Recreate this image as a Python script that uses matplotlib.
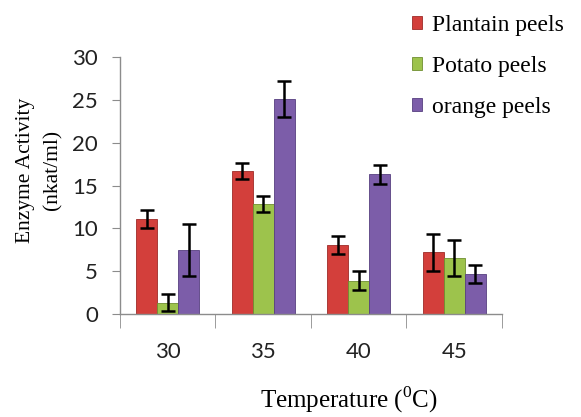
import numpy as np
import matplotlib
matplotlib.use("Agg")
import matplotlib.pyplot as plt

# data
temperatures = ["30", "35", "40", "45"]
series_names = ["Plantain peels", "Potato peels", "orange peels"]
plantain = [11.1, 16.7, 8.1, 7.2]
potato = [1.35, 12.85, 3.9, 6.6]
orange = [7.5, 25.1, 16.3, 4.7]
plantain_err = [1.0, 0.9, 1.05, 2.1]
potato_err = [1.0, 0.95, 1.1, 2.1]
orange_err = [3.0, 2.1, 1.1, 1.0]

colors = ["#D33F3B", "#9DC34C", "#7C5DA9"]
edge_colors = ["#9E2B28", "#6F8E30", "#574080"]

plt.rcParams["mathtext.fontset"] = "custom"
plt.rcParams["mathtext.rm"] = "Liberation Serif"

fig = plt.figure(figsize=(5.81, 4.17), dpi=100)
ax = fig.add_axes([0.2065, 0.2463, 0.6575, 0.6177])

x = np.arange(len(temperatures))
w = 0.22
values = [plantain, potato, orange]
errors = [plantain_err, potato_err, orange_err]
for i, (vals, errs) in enumerate(zip(values, errors)):
    ax.bar(x + (i - 1) * w, vals, width=w, color=colors[i], edgecolor=edge_colors[i],
           linewidth=0.6, label=series_names[i], zorder=2)
    ax.errorbar(x + (i - 1) * w, vals, yerr=errs, fmt="none", ecolor="black",
                elinewidth=1.8, capsize=5, capthick=1.8, zorder=3)

ax.set_xlim(-0.5, 3.5)
ax.set_ylim(0, 30)
ax.set_yticks(range(0, 31, 5))
ax.set_xticks(x)
ax.set_xticklabels(temperatures)
ax.set_xticks(np.arange(-0.5, 4.0, 1.0), minor=True)

for s in ["top", "right"]:
    ax.spines[s].set_visible(False)
for s in ["left", "bottom"]:
    ax.spines[s].set_color("#8C8C8C")
    ax.spines[s].set_linewidth(1.0)

ax.tick_params(axis="y", direction="out", length=6, color="#8C8C8C", labelsize=16,
               labelcolor="#222222", pad=10)
ax.tick_params(axis="x", which="major", length=0, labelsize=16, labelcolor="#222222", pad=20)
ax.tick_params(axis="x", which="minor", direction="out", length=10, color="#8C8C8C")
for lab in ax.get_xticklabels() + ax.get_yticklabels():
    lab.set_family("Lato")

ax.set_ylabel("Enzyme Activity\n(nkat/ml)", family="Liberation Serif", fontsize=15.5,
              linespacing=1.6)
ax.yaxis.set_label_coords(-0.15, 0.56)
ax.set_xlabel("Temperature ($^{\\mathrm{0}}$C)", family="Liberation Serif", fontsize=18)
ax.xaxis.set_label_coords(0.60, -0.272)

fig.legend(loc="upper left", bbox_to_anchor=(0.672, 1.015), frameon=False,
           prop={"family": "Liberation Serif", "size": 17},
           handlelength=0.45, handleheight=0.45, handletextpad=0.4, labelspacing=0.84)

fig.savefig("out.png", dpi=100)
